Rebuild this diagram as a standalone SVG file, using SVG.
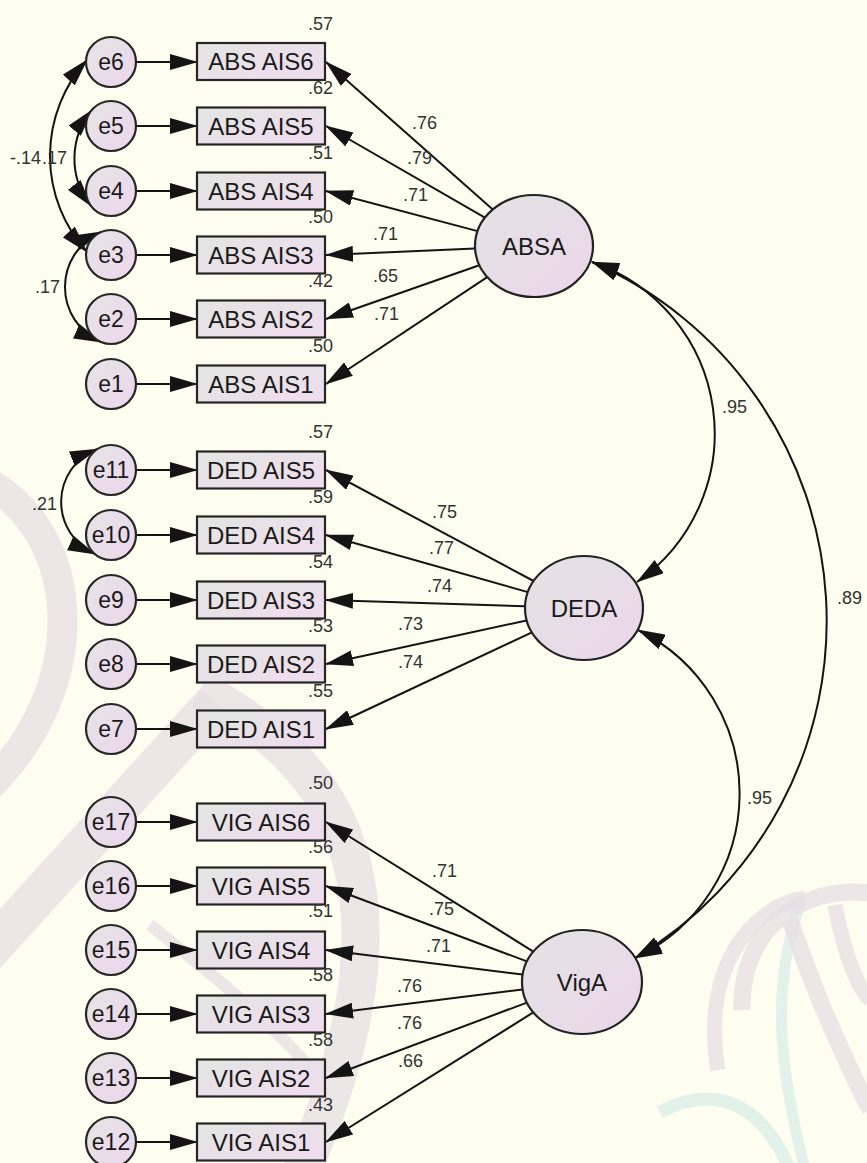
<svg xmlns="http://www.w3.org/2000/svg" width="867" height="1163" viewBox="0 0 867 1163">
  <defs>
    <style>
      text { font-family: "Liberation Sans", Arial, sans-serif; }
      .box { fill: url(#gBox); stroke: #262626; stroke-width: 2.2; }
      .err { fill: url(#gErr); stroke: #262626; stroke-width: 2.2; }
      .lat { fill: url(#gLat); stroke: #222; stroke-width: 2.2; }
      .tb { font-size: 24px; fill: #1a1a1a; text-anchor: middle; }
      .te { font-size: 23px; fill: #1a1a1a; text-anchor: middle; }
      .tl { font-size: 24px; fill: #1a1a1a; text-anchor: middle; }
      .num { font-size: 18px; fill: #333; }
      .r2 { font-size: 18px; fill: #333; text-anchor: end; }
      .path { fill: none; stroke: #141414; stroke-width: 2; marker-end: url(#arr); }
      .cov { fill: none; stroke: #141414; stroke-width: 2; marker-start: url(#arr); marker-end: url(#arr); }
      .wm { fill: none; stroke: #e6dee4; stroke-linecap: butt; opacity: 0.75; }
      .wc { fill: none; stroke: #d8eeea; opacity: 0.75; }
    </style>
    <linearGradient id="gBox" x1="0" y1="0" x2="1" y2="1">
      <stop offset="0" stop-color="#e2e6e2"/>
      <stop offset="1" stop-color="#f0dcef"/>
    </linearGradient>
    <linearGradient id="gErr" x1="0" y1="0" x2="1" y2="1">
      <stop offset="0" stop-color="#e4e5e6"/>
      <stop offset="1" stop-color="#eed6ec"/>
    </linearGradient>
    <linearGradient id="gLat" x1="0" y1="0" x2="1" y2="1">
      <stop offset="0" stop-color="#e2e4e4"/>
      <stop offset="1" stop-color="#ecd6ea"/>
    </linearGradient>
    <marker id="arr" viewBox="0 0 28 16" refX="27" refY="8" markerWidth="28" markerHeight="16" markerUnits="userSpaceOnUse" orient="auto-start-reverse">
      <path d="M0,0 L28,8 L0,16 Z" fill="#141414"/>
    </marker>
  </defs>

  <!-- page background -->
  <rect x="0" y="0" width="867" height="1163" fill="#fdfdf0"/>

  <!-- faint background logo -->
  <g id="backdrop">
    <path class="wm" stroke-width="30" d="M -20 478 C 85 530, 95 690, -20 795"/>
    <path class="wm" stroke-width="40" d="M -15 955 L 215 702"/>
    <path class="wm" stroke-width="38" d="M 200 690 C 330 760, 430 880, 300 1175"/>
    <path class="wm" stroke-width="12" d="M 150 925 C 220 980, 280 1030, 320 1080"/>
    <path class="wc" stroke-width="13" d="M 660 1112 C 720 1080, 765 1110, 790 1170"/>
    <path class="wc" stroke-width="11" d="M 800 905 C 770 990, 780 1070, 805 1170"/>
    <path class="wm" stroke-width="15" d="M 718 1070 C 700 965, 755 905, 805 898"/>
    <path class="wm" stroke-width="17" d="M 742 1010 C 740 930, 800 885, 870 893"/>
    <path class="wm" stroke-width="17" d="M 790 920 C 815 995, 845 1060, 870 1110"/>
    <path class="wm" stroke-width="15" d="M 835 905 C 845 960, 860 990, 870 1000"/>
  </g>

  <!-- connectors -->
  <g id="connectors">
    <!-- error terms to indicators -->
    <path class="path" d="M136 62 H197"/>
    <path class="path" d="M136 126 H197"/>
    <path class="path" d="M136 191 H197"/>
    <path class="path" d="M136 255 H197"/>
    <path class="path" d="M136 319 H197"/>
    <path class="path" d="M136 384 H197"/>
    <path class="path" d="M136 470 H197"/>
    <path class="path" d="M136 535 H197"/>
    <path class="path" d="M136 600 H197"/>
    <path class="path" d="M136 664 H197"/>
    <path class="path" d="M136 729 H197"/>
    <path class="path" d="M136 822 H197"/>
    <path class="path" d="M136 886 H197"/>
    <path class="path" d="M136 950 H197"/>
    <path class="path" d="M136 1014 H197"/>
    <path class="path" d="M136 1078 H197"/>
    <path class="path" d="M136 1142 H197"/>

    <!-- ABSA loadings -->
    <path class="path" d="M492.8 209.5 L326 62"/>
    <path class="path" d="M484.9 217.7 L326 126"/>
    <path class="path" d="M477.6 231.1 L326 191"/>
    <path class="path" d="M475.1 248.5 L326 255"/>
    <path class="path" d="M479.3 265.2 L326 319"/>
    <path class="path" d="M487.2 277.1 L326 384"/>

    <!-- DEDA loadings -->
    <path class="path" d="M533.6 581 L326 470"/>
    <path class="path" d="M527.8 592.1 L326 535"/>
    <path class="path" d="M525 606.2 L326 600"/>
    <path class="path" d="M526.7 620.4 L326 664"/>
    <path class="path" d="M531.9 632.4 L326 729"/>

    <!-- VigA loadings -->
    <path class="path" d="M533.3 951.6 L326 822"/>
    <path class="path" d="M526.9 961.4 L326 886"/>
    <path class="path" d="M522.6 974.6 L326 950"/>
    <path class="path" d="M522.6 989.4 L326 1014"/>
    <path class="path" d="M526.9 1002.6 L326 1078"/>
    <path class="path" d="M533.3 1012.4 L326 1142"/>

    <!-- error covariances -->
    <path class="cov" d="M87 60 A143 143 0 0 0 87 252"/>
    <path class="cov" d="M92 110 A76 76 0 0 0 91 206"/>
    <path class="cov" d="M101 232 A60 60 0 0 0 101 342"/>
    <path class="cov" d="M97 449 A57 57 0 0 0 95 554"/>

    <!-- factor correlations -->
    <path class="cov" d="M592 262 A181 181 0 0 1 637 582"/>
    <path class="cov" d="M592 262 A392 392 0 0 1 635 958"/>
    <path class="cov" d="M638 630 A182 182 0 0 1 635 958"/>

    <!-- coefficient labels -->
    <text class="num" x="412" y="129">.76</text>
    <text class="num" x="407" y="164">.79</text>
    <text class="num" x="403" y="201">.71</text>
    <text class="num" x="373" y="240">.71</text>
    <text class="num" x="373" y="282">.65</text>
    <text class="num" x="374" y="320">.71</text>

    <text class="num" x="432" y="518">.75</text>
    <text class="num" x="429" y="554">.77</text>
    <text class="num" x="427" y="592">.74</text>
    <text class="num" x="398" y="630">.73</text>
    <text class="num" x="398" y="668">.74</text>

    <text class="num" x="432" y="877">.71</text>
    <text class="num" x="429" y="915">.75</text>
    <text class="num" x="426" y="952">.71</text>
    <text class="num" x="397" y="992">.76</text>
    <text class="num" x="397" y="1029">.76</text>
    <text class="num" x="398" y="1067">.66</text>

    <text class="num" x="10" y="164">-.14</text>
    <text class="num" x="42" y="164">.17</text>
    <text class="num" x="35" y="293">.17</text>
    <text class="num" x="32" y="510">.21</text>

    <text class="num" x="722" y="413">.95</text>
    <text class="num" x="837" y="604">.89</text>
    <text class="num" x="747" y="804">.95</text>
  </g>

  <!-- latent factors -->
  <g id="ABSA">
    <ellipse class="lat" cx="534" cy="246" rx="59" ry="51"/>
    <text class="tl" x="534" y="254.5">ABSA</text>
  </g>
  <g id="DEDA">
    <ellipse class="lat" cx="584" cy="608" rx="59" ry="52"/>
    <text class="tl" x="584" y="616.5">DEDA</text>
  </g>
  <g id="VigA">
    <ellipse class="lat" cx="582" cy="982" rx="60" ry="52"/>
    <text class="tl" x="582" y="990.5">VigA</text>
  </g>

  <!-- ABS indicators -->
  <g id="ABS_AIS6"><rect class="box" x="197" y="43" width="128" height="37"/><text class="tb" x="261" y="70">ABS AIS6</text><text class="r2" x="333" y="30">.57</text></g>
  <g id="ABS_AIS5"><rect class="box" x="197" y="107.5" width="128" height="37"/><text class="tb" x="261" y="134.5">ABS AIS5</text><text class="r2" x="333" y="94">.62</text></g>
  <g id="ABS_AIS4"><rect class="box" x="197" y="172.5" width="128" height="37"/><text class="tb" x="261" y="199.5">ABS AIS4</text><text class="r2" x="333" y="159">.51</text></g>
  <g id="ABS_AIS3"><rect class="box" x="197" y="236.5" width="128" height="37"/><text class="tb" x="261" y="263.5">ABS AIS3</text><text class="r2" x="333" y="223">.50</text></g>
  <g id="ABS_AIS2"><rect class="box" x="197" y="300.5" width="128" height="37"/><text class="tb" x="261" y="327.5">ABS AIS2</text><text class="r2" x="333" y="287">.42</text></g>
  <g id="ABS_AIS1"><rect class="box" x="197" y="365.5" width="128" height="37"/><text class="tb" x="261" y="392.5">ABS AIS1</text><text class="r2" x="333" y="352">.50</text></g>

  <!-- DED indicators -->
  <g id="DED_AIS5"><rect class="box" x="197" y="451.5" width="128" height="37"/><text class="tb" x="261" y="478.5">DED AIS5</text><text class="r2" x="333" y="438">.57</text></g>
  <g id="DED_AIS4"><rect class="box" x="197" y="516.5" width="128" height="37"/><text class="tb" x="261" y="543.5">DED AIS4</text><text class="r2" x="333" y="503">.59</text></g>
  <g id="DED_AIS3"><rect class="box" x="197" y="581.5" width="128" height="37"/><text class="tb" x="261" y="608.5">DED AIS3</text><text class="r2" x="333" y="568">.54</text></g>
  <g id="DED_AIS2"><rect class="box" x="197" y="645.5" width="128" height="37"/><text class="tb" x="261" y="672.5">DED AIS2</text><text class="r2" x="333" y="632">.53</text></g>
  <g id="DED_AIS1"><rect class="box" x="197" y="710.5" width="128" height="37"/><text class="tb" x="261" y="737.5">DED AIS1</text><text class="r2" x="333" y="697">.55</text></g>

  <!-- VIG indicators -->
  <g id="VIG_AIS6"><rect class="box" x="197" y="803.5" width="128" height="37"/><text class="tb" x="261" y="830.5">VIG AIS6</text><text class="r2" x="333" y="789">.50</text></g>
  <g id="VIG_AIS5"><rect class="box" x="197" y="867.5" width="128" height="37"/><text class="tb" x="261" y="894.5">VIG AIS5</text><text class="r2" x="333" y="853">.56</text></g>
  <g id="VIG_AIS4"><rect class="box" x="197" y="931.5" width="128" height="37"/><text class="tb" x="261" y="958.5">VIG AIS4</text><text class="r2" x="333" y="917">.51</text></g>
  <g id="VIG_AIS3"><rect class="box" x="197" y="995.5" width="128" height="37"/><text class="tb" x="261" y="1022.5">VIG AIS3</text><text class="r2" x="333" y="981">.58</text></g>
  <g id="VIG_AIS2"><rect class="box" x="197" y="1059.5" width="128" height="37"/><text class="tb" x="261" y="1086.5">VIG AIS2</text><text class="r2" x="333" y="1046">.58</text></g>
  <g id="VIG_AIS1"><rect class="box" x="197" y="1123.5" width="128" height="37"/><text class="tb" x="261" y="1150.5">VIG AIS1</text><text class="r2" x="333" y="1111">.43</text></g>

  <!-- error terms -->
  <g id="e6"><circle class="err" cx="111" cy="62" r="25"/><text class="te" x="111" y="70">e6</text></g>
  <g id="e5"><circle class="err" cx="111" cy="126" r="25"/><text class="te" x="111" y="134">e5</text></g>
  <g id="e4"><circle class="err" cx="111" cy="191" r="25"/><text class="te" x="111" y="199">e4</text></g>
  <g id="e3"><circle class="err" cx="111" cy="255" r="25"/><text class="te" x="111" y="263">e3</text></g>
  <g id="e2"><circle class="err" cx="111" cy="319" r="25"/><text class="te" x="111" y="327">e2</text></g>
  <g id="e1"><circle class="err" cx="111" cy="384" r="25"/><text class="te" x="111" y="392">e1</text></g>
  <g id="e11"><circle class="err" cx="111" cy="470" r="25"/><text class="te" x="111" y="478">e11</text></g>
  <g id="e10"><circle class="err" cx="111" cy="535" r="25"/><text class="te" x="111" y="543">e10</text></g>
  <g id="e9"><circle class="err" cx="111" cy="600" r="25"/><text class="te" x="111" y="608">e9</text></g>
  <g id="e8"><circle class="err" cx="111" cy="664" r="25"/><text class="te" x="111" y="672">e8</text></g>
  <g id="e7"><circle class="err" cx="111" cy="729" r="25"/><text class="te" x="111" y="737">e7</text></g>
  <g id="e17"><circle class="err" cx="111" cy="822" r="25"/><text class="te" x="111" y="830">e17</text></g>
  <g id="e16"><circle class="err" cx="111" cy="886" r="25"/><text class="te" x="111" y="894">e16</text></g>
  <g id="e15"><circle class="err" cx="111" cy="950" r="25"/><text class="te" x="111" y="958">e15</text></g>
  <g id="e14"><circle class="err" cx="111" cy="1014" r="25"/><text class="te" x="111" y="1022">e14</text></g>
  <g id="e13"><circle class="err" cx="111" cy="1078" r="25"/><text class="te" x="111" y="1086">e13</text></g>
  <g id="e12"><circle class="err" cx="111" cy="1142" r="25"/><text class="te" x="111" y="1150">e12</text></g>
</svg>
